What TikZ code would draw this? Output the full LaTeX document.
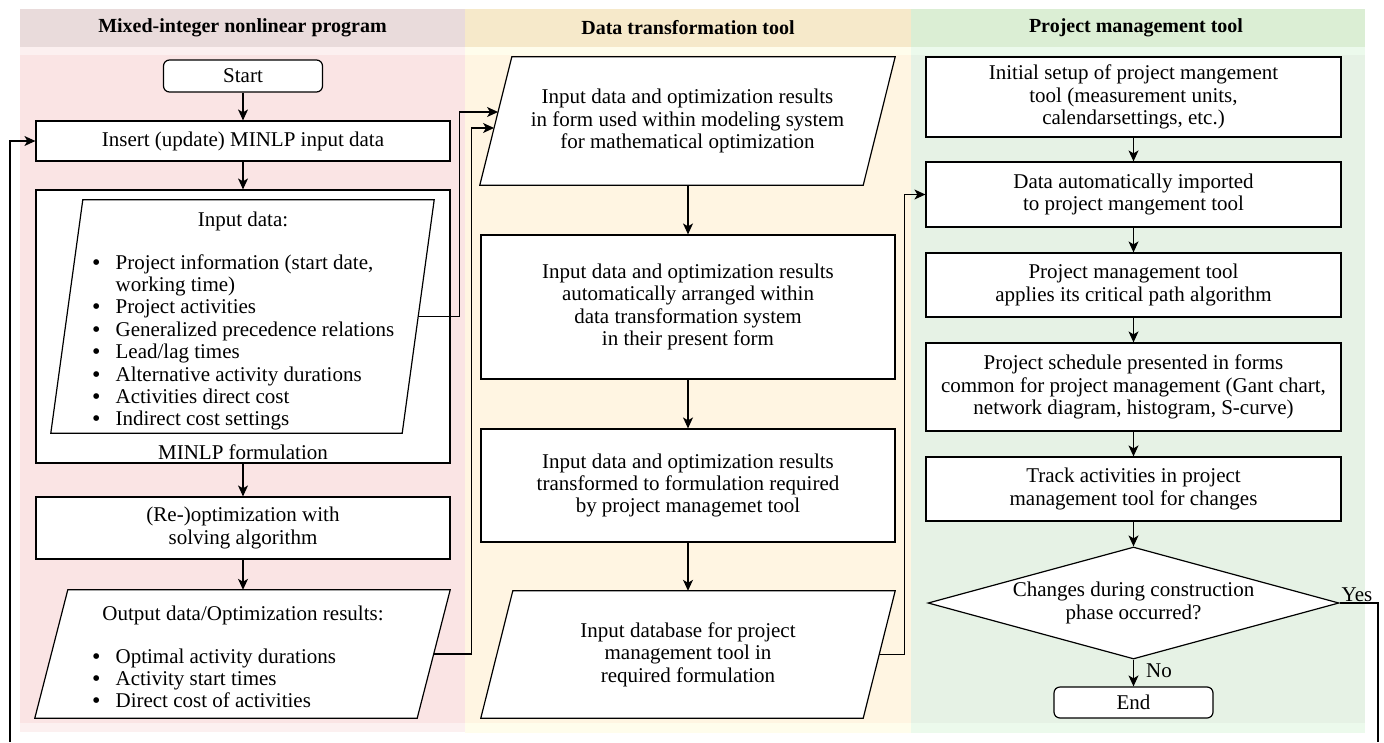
\documentclass[tikz,border=0pt]{standalone}
\usepackage{fontspec}
\setmainfont{Liberation Serif}
\usetikzlibrary{shapes.geometric,arrows.meta,calc}
\pgfdeclarelayer{bg}
\pgfdeclarelayer{mid}
\pgfsetlayers{bg,mid,main}
\definecolor{hdrA}{RGB}{233,219,219}
\definecolor{bodyA}{RGB}{250,228,228}
\definecolor{stripA}{RGB}{252,240,240}
\definecolor{hdrB}{RGB}{246,233,202}
\definecolor{bodyB}{RGB}{255,245,226}
\definecolor{stripB}{RGB}{255,253,236}
\definecolor{hdrC}{RGB}{219,238,212}
\definecolor{bodyC}{RGB}{230,242,229}
\definecolor{stripC}{RGB}{236,250,236}
\newcommand{\fsz}{\fontsize{21}{22.4}\selectfont}
\newcommand{\bul}{\smash{\raisebox{-1pt}{\fontsize{24}{22.4}\selectfont\textbullet}}}
\newcommand{\parashape}[2]{%
  \begin{pgfonlayer}{mid}
  \draw[line width=1.2pt,fill=white] ([xshift=#2]#1.north west) -- ([xshift=#2]#1.north east)
     -- ([xshift=-#2]#1.south east) -- ([xshift=-#2]#1.south west) -- cycle;
  \end{pgfonlayer}}
\begin{document}
\begin{tikzpicture}[x=1pt,y=-1pt,
  box/.style={draw,line width=1.2pt,fill=white,rectangle,inner sep=0pt,align=center,font=\fsz},
  term/.style={box,rounded corners=6pt},
  paratext/.style={rectangle,inner sep=0pt,align=center,font=\fsz},
  txt/.style={inner sep=0pt,align=center,font=\fsz},
  hdr/.style={inner sep=0pt,font=\fontsize{20}{24}\selectfont\bfseries},
  dia/.style={draw,line width=1.2pt,fill=white,diamond,aspect=3.67,inner sep=0pt,align=center,font=\fsz},
  arr/.style={line width=1.2pt,-{Stealth[length=11pt,width=10pt,inset=3pt]}},
  conn/.style={line width=1.2pt}
]
\useasboundingbox (0,0) rectangle (1384,742);
\begin{pgfonlayer}{bg}
\fill[white] (0,0) rectangle (1384,742);
\fill[hdrA] (20,9) rectangle (465,47);
\fill[stripA] (20,47) rectangle (465,55);
\fill[bodyA] (20,55) rectangle (465,723);
\fill[stripA] (20,723) rectangle (465,732);
\fill[hdrB] (465,9) rectangle (911,47);
\fill[stripB] (465,47) rectangle (911,55);
\fill[bodyB] (465,55) rectangle (911,723);
\fill[stripB] (465,723) rectangle (911,733);
\fill[hdrC] (911,9) rectangle (1365,47);
\fill[stripC] (911,47) rectangle (1365,55);
\fill[bodyC] (911,55) rectangle (1365,723);
\fill[stripC] (911,723) rectangle (1365,733);
\end{pgfonlayer}
% headers
\node[hdr] (hA) at (242.5,28) {Mixed-integer nonlinear program};
\node[hdr] (hB) at (688,28) {Data transformation tool};
\node[hdr] (hC) at (1136,28) {Project management tool};
% left column
\node[term,minimum width=159pt,minimum height=32pt] (start) at (243,76) {Start};
\node[box,minimum width=414pt,minimum height=40pt] (ins) at (243,141) {Insert (update) MINLP input data};
\node[box,fill=none,minimum width=414pt,minimum height=273pt] (inbox) at (243,326.5) {};
\begin{pgfonlayer}{mid}
\fill[white] (inbox.north west) rectangle (inbox.south east);
\end{pgfonlayer}
\node[paratext,minimum width=351pt,minimum height=233pt] (indata) at (242.5,316.5) {};
\parashape{indata}{16pt}
\node[txt] (intitle) at (243,221) {Input data:};
\node[txt,anchor=base west,align=left] (inlist) at (92,269) {%
\begin{tabular}[t]{@{}l@{\hspace{15pt}}l@{}}
\bul & Project information (start date,\\
 & working time)\\
\bul & Project activities\\
\bul & Generalized precedence relations\\
\bul & Lead/lag times\\
\bul & Alternative activity durations\\
\bul & Activities direct cost\\
\bul & Indirect cost settings
\end{tabular}};
\node[txt] (minlp) at (243,452) {MINLP formulation};
\node[box,minimum width=414pt,minimum height=62pt] (reopt) at (243,528) {(Re-)optimization with\\solving algorithm};
\node[paratext,minimum width=382pt,minimum height=128pt] (outdata) at (242.5,654) {};
\parashape{outdata}{16.5pt}
\node[txt] (outtitle) at (243,615) {Output data/Optimization results:};
\node[txt,anchor=base west,align=left] (outlist) at (92,663) {%
\begin{tabular}[t]{@{}l@{\hspace{15pt}}l@{}}
\bul & Optimal activity durations\\
\bul & Activity start times\\
\bul & Direct cost of activities
\end{tabular}};
% middle column
\node[paratext,minimum width=383pt,minimum height=128pt] (p1) at (687.5,121) {Input data and optimization results\\in form used within modeling system\\for mathematical optimization};
\parashape{p1}{16pt}
\node[box,minimum width=414pt,minimum height=144pt] (b2) at (688,307) {Input data and optimization results\\automatically arranged within\\data transformation system\\in their present form};
\node[box,minimum width=414pt,minimum height=113pt] (b3) at (688,485.5) {Input data and optimization results\\transformed to formulation required\\by project managemet tool};
\node[paratext,minimum width=382pt,minimum height=127pt] (p4) at (688,654.5) {Input database for project\\management tool in\\required formulation};
\parashape{p4}{16pt}
% right column
\node[box,minimum width=415pt,minimum height=80pt] (r1) at (1133.5,97) {Initial setup of project mangement\\tool (measurement units,\\calendarsettings, etc.)};
\node[box,minimum width=415pt,minimum height=65pt] (r2) at (1133.5,194.5) {Data automatically imported\\to project mangement tool};
\node[box,minimum width=415pt,minimum height=64pt] (r3) at (1133.5,285) {Project management tool\\applies its critical path algorithm};
\node[box,minimum width=415pt,minimum height=88pt] (r4) at (1133.5,387) {Project schedule presented in forms\\common for project management (Gant chart,\\network diagram, histogram, S-curve)};
\node[box,minimum width=415pt,minimum height=64pt] (r5) at (1133.5,489) {Track activities in project\\management tool for changes};
\node[dia,minimum width=411pt,minimum height=112pt] (dec) at (1133.5,603) {Changes during construction\\phase occurred?};
\node[term,minimum width=159pt,minimum height=31pt] (end) at (1133.5,702.5) {End};
\node[txt] (yes) at (1357,595) {Yes};
\node[txt] (no) at (1159,671) {No};
% vertical arrows
\draw[arr] (start) -- (ins);
\draw[arr] (ins) -- (inbox);
\draw[arr] (inbox) -- (reopt);
\draw[arr] (reopt) -- (outdata.north -| reopt.south);
\draw[arr] (p1.south -| b2.north) -- (b2);
\draw[arr] (b2) -- (b3);
\draw[arr] (b3) -- (p4.north -| b3.south);
\draw[arr] (r1) -- (r2);
\draw[arr] (r2) -- (r3);
\draw[arr] (r3) -- (r4);
\draw[arr] (r4) -- (r5);
\draw[arr] (r5) -- (dec);
\draw[arr] (dec) -- (end);
% cross-column connectors
\draw[arr] (indata.east) -- ++(41,0) |- ([xshift=2.25pt,yshift=9pt]p1.west);
\draw[arr] (outdata.east) -- ++(37.5,0) |- ([xshift=-1.75pt,yshift=-7pt]p1.west);
\draw[arr] (p4.east) -- ++(25,0) |- (r2.west);
% feedback loop (leaves the picture at the bottom)
\coordinate (loopR) at (1378,742);
\coordinate (loopL) at (10,742);
\draw[conn] (dec.east) -| (loopR);
\draw[arr] (loopL) |- (ins.west);
\end{tikzpicture}
\end{document}
